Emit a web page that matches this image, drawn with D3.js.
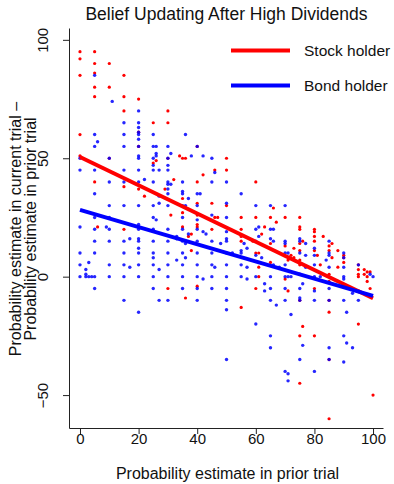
<!DOCTYPE html>
<html>
<head>
<meta charset="utf-8">
<script src="https://cdn.jsdelivr.net/npm/d3@7"></script>
<style>
  body { margin: 0; background: #fff; }
  svg { display: block; font-family: 'Liberation Sans', Arial, sans-serif; }
  .axis path, .axis line { stroke: #222; }
  .axis text { fill: #111; }
</style>
</head>
<body>
<div id="app"></div>
<script>
// prior estimate (x), change in estimate (y)
const stockPoints = [
  [0,95],[5,95],[0,92],[5,90],[10,90],[0,85],[5,86],[15,85],[5,80],[10,80],
  [5,76],[15,76],[20,75],[15,70],[30,70],[25,65],[30,65],[0,60],[20,61],[20,55],
  [40,55],[0,51],[10,50],[25,48],[26,49],[30,50],[34,51],[35,50],[36,50],[50,50],
  [46,45],[50,45],[42,43],[32,41],[5,40],[15,38],[20,37],[29,37],[22,34],[35,33],
  [40,40],[40,31],[45,31],[50,30],[31,26],[35,27],[40,26],[46,25],[47,25],[6,21],
  [15,20],[35,21],[40,22],[40,21],[45,20],[37,17],[38,18],[38,11],[40,-4],[30,-5],
  [36,-9],[60,40],[55,25],[60,25],[65,25],[70,25],[75,25],[66,29],[67,23],[75,21],
  [75,20],[80,20],[80,19],[62,18],[63,21],[55,20],[55,17],[55,15],[59,15],[65,14],
  [70,13],[73,12],[75,14],[76,15],[75,11],[80,17],[80,15],[80,11],[83,17],[86,14],
  [85,13],[85,11],[88,11],[90,9],[90,8],[90,6],[60,10],[61,10],[72,9],[73,8],
  [81,9],[86,8],[61,4],[65,6],[71,7],[75,7],[75,5],[82,5],[88,4],[95,5],
  [95,3],[95,1],[97,3],[98,2],[99,2],[97,1],[98,0],[95,0],[99,-5],[61,0],
  [70,-1],[75,1],[85,1],[60,-5],[71,-6],[80,-5],[85,-2],[98,-2],[75,-10],[85,-10],
  [55,-13],[85,-15],[76,-21],[95,-20],[75,-25],[80,-25],[85,-35],[75,-45],[100,-50],[85,-60]
]

const bondPoints = [
  [5,85],[11,74],[20,70],[15,65],[20,65],[20,63],[5,60],[15,60],[20,61],[20,60],
  [20,58],[25,60],[36,60],[6,57],[5,55],[15,55],[20,55],[25,55],[26,55],[30,55],
  [40,55],[0,50],[10,50],[20,50],[20,51],[25,50],[26,51],[26,52],[30,50],[31,52],
  [38,51],[42,51],[45,50],[0,45],[5,45],[15,45],[20,45],[25,47],[25,45],[27,45],
  [30,47],[30,45],[46,44],[22,41],[10,40],[15,40],[20,40],[25,40],[30,40],[30,39],
  [31,39],[35,40],[45,40],[50,40],[5,35],[30,37],[30,35],[27,34],[35,36],[35,35],
  [37,33],[40,35],[41,35],[10,30],[15,30],[20,30],[25,30],[27,31],[30,30],[35,30],
  [36,30],[40,30],[50,31],[5,25],[10,25],[25,25],[26,24],[35,25],[40,24],[45,26],
  [50,25],[0,21],[5,20],[9,21],[10,20],[20,21],[20,22],[20,20],[25,20],[30,20],
  [35,20],[40,20],[42,19],[43,18],[50,19],[5,15],[10,15],[15,15],[17,16],[20,16],
  [20,15],[25,15],[30,15],[33,17],[33,16],[35,15],[37,18],[36,14],[40,15],[45,15],
  [48,14],[50,16],[50,15],[20,12],[0,10],[5,10],[15,10],[20,10],[25,10],[30,10],
  [35,10],[40,10],[45,10],[50,10],[25,8],[36,8],[33,7],[3,6],[0,5],[10,5],
  [15,5],[20,5],[25,5],[30,5],[35,5],[40,5],[45,5],[50,5],[17,4],[46,4],
  [2,3],[27,3],[2,1],[0,0],[2,0],[3,0],[4,0],[5,0],[10,0],[15,0],
  [20,0],[25,0],[30,0],[35,0],[40,0],[45,0],[50,0],[42,-1],[5,-5],[25,-5],
  [35,-5],[40,-5],[45,-5],[50,-5],[15,-10],[27,-10],[30,-10],[40,-10],[50,-10],[50,-14],
  [20,-15],[55,35],[60,30],[65,30],[70,30],[65,20],[66,20],[61,21],[60,20],[56,14],
  [60,15],[61,17],[65,16],[66,15],[70,15],[70,14],[75,16],[75,15],[77,14],[80,12],
  [85,15],[90,10],[90,8],[52,10],[55,11],[55,10],[57,12],[60,9],[70,10],[71,10],
  [75,10],[77,9],[80,9],[84,7],[85,10],[85,9],[62,8],[55,5],[57,4],[66,5],
  [68,4],[70,5],[77,4],[80,5],[85,4],[90,4],[90,0],[95,5],[99,1],[100,0],
  [55,0],[57,-1],[60,0],[65,0],[70,0],[71,0],[72,0],[75,1],[80,0],[82,0],
  [90,-1],[63,-3],[63,-6],[65,-5],[70,-5],[75,-5],[76,-3],[80,-6],[85,-5],[95,-6],
  [93,-7],[65,-10],[70,-10],[75,-10],[75,-9],[80,-10],[85,-10],[90,-10],[95,-10],[67,-12],
  [72,-16],[91,-15],[60,-20],[65,-25],[90,-25],[76,-29],[91,-28],[65,-30],[85,-30],[93,-30],
  [50,-35],[75,-35],[85,-35],[90,-36],[70,-40],[71,-41],[80,-40],[71,-44]
]

// fitted lines, endpoints at x = 0 and x = 100
const stockFit = [[0, 50.5], [100, -9.1]]
const bondFit = [[0, 28.2], [100, -8.1]]

const xTicks = [0, 20, 40, 60, 80, 100]
const yTicks = [-50, 0, 50, 100]
const series = ['Stock holder', 'Bond holder']
const colors = ['#ff0000', '#0000ff']

const W = 394
const H = 484

const svg = d3
  .select('#app')
  .append('svg')
  .attr('width', W)
  .attr('height', H)

const x = d3.scaleLinear().domain([-3.75, 103.4]).range([69, 383])
const y = d3.scaleLinear().domain([-63.9, 105]).range([428, 28])

// Points
svg
  .append('g')
  .selectAll('circle')
  .data(stockPoints)
  .join('circle')
  .attr('cx', d => x(d[0]))
  .attr('cy', d => y(d[1]))
  .attr('r', 1.6)
  .attr('fill', colors[0])

svg
  .append('g')
  .selectAll('circle')
  .data(bondPoints)
  .join('circle')
  .attr('cx', d => x(d[0]))
  .attr('cy', d => y(d[1]))
  .attr('r', 1.7)
  .attr('fill', colors[1])
  .attr('fill-opacity', 0.85)

// Fit lines
const line = d3.line().x(d => x(d[0])).y(d => y(d[1]))
;[stockFit, bondFit].forEach((fit, i) => {
  svg
    .append('path')
    .attr('d', line(fit))
    .attr('fill', 'none')
    .attr('stroke', colors[i])
    .attr('stroke-width', 4)
})

// X axis
const xAxis = svg
  .append('g')
  .attr('class', 'axis')
  .attr('transform', `translate(0,${y.range()[0]})`)
  .call(d3.axisBottom(x).tickValues(xTicks).tickSize(6).tickSizeOuter(0))
xAxis.selectAll('text').attr('y', 5.5).style('font-size', '15px')

// Y axis
const yAxis = svg
  .append('g')
  .attr('class', 'axis')
  .attr('transform', `translate(${x.range()[0]},0)`)
  .call(d3.axisLeft(y).tickValues(yTicks).tickSize(6).tickSizeOuter(0).tickFormat(d => d < 0 ? '\u2212' + Math.abs(d) : d))
yAxis
  .selectAll('text')
  .attr('transform', 'rotate(-90)')
  .attr('x', 0)
  .attr('y', -21)
  .attr('dy', 0)
  .attr('text-anchor', 'middle')
  .style('font-size', '15px')

// Title
svg
  .append('text')
  .attr('x', 226.5)
  .attr('y', 20)
  .attr('text-anchor', 'middle')
  .style('font-size', '17.5px')
  .attr('fill', '#111')
  .text('Belief Updating After High Dividends')

// X axis label
svg
  .append('text')
  .attr('x', 227.5)
  .attr('y', 479)
  .attr('text-anchor', 'middle')
  .style('font-size', '16px')
  .attr('fill', '#111')
  .text('Probability estimate in prior trial')

// Y axis label, two lines
const yLabel = ['Probability estimate in current trial \u2013', 'Probability estimate in prior trial']
yLabel.forEach((t, i) => {
  svg
    .append('text')
    .attr('transform', `translate(${21 + i * 15},229) rotate(-90)`)
    .attr('text-anchor', 'middle')
    .style('font-size', '16px')
    .attr('fill', '#111')
    .text(t)
})

// Legend
const legend = svg.append('g')
series.forEach((s, i) => {
  const ly = 50.5 + i * 35
  legend
    .append('line')
    .attr('x1', 231)
    .attr('x2', 290)
    .attr('y1', ly)
    .attr('y2', ly)
    .attr('stroke', colors[i])
    .attr('stroke-width', 4)
  legend
    .append('text')
    .attr('x', 304)
    .attr('y', ly + 5.5)
    .style('font-size', '15.5px')
    .attr('fill', '#111')
    .text(s)
})
</script>
</body>
</html>
